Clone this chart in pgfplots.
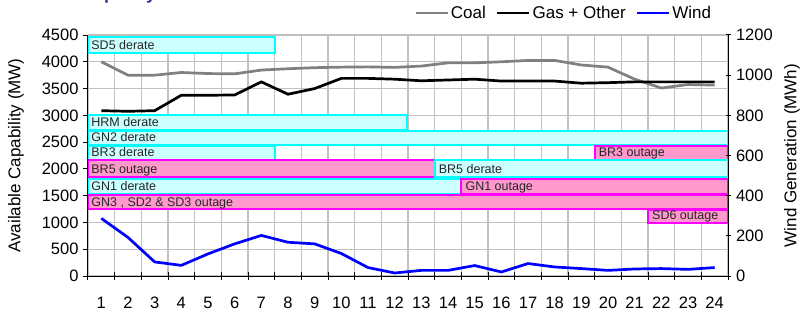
\documentclass[border=0pt]{standalone}
\usepackage{pgfplots}
\pgfplotsset{compat=1.18}
\usepackage{fontspec}
\setmainfont{Liberation Sans}
\definecolor{cyanfill}{HTML}{CCFFFF}
\definecolor{cyanline}{HTML}{00FFFF}
\definecolor{pinkfill}{HTML}{FF99CC}
\definecolor{pinkline}{HTML}{FF00FF}
\definecolor{coalgray}{HTML}{808080}
\definecolor{gridgray}{HTML}{C0C0C0}
\definecolor{titleblue}{HTML}{333399}
\tikzset{
  bar/.style={line width=2bp},
  cy/.style={bar, fill=cyanfill, draw=cyanline},
  pk/.style={bar, fill=pinkfill, draw=pinkline},
  blab/.style={anchor=base west, font=\fontsize{12.5bp}{14bp}\selectfont, text=black!85, inner sep=0pt},
}
\begin{document}
\begin{tikzpicture}[font=\fontsize{16.5bp}{19bp}\selectfont]
\pgfplotsset{
  base/.style={
    scale only axis, width=640bp, height=241bp,
    xmin=0.5, xmax=24.5,
    clip mode=individual,
    /pgf/number format/assume math mode=true,
    /pgf/number format/1000 sep={},
    axis line style={line width=1bp, black},
    major tick length=5bp, minor tick length=7bp,
    tick style={line width=1bp, black},
  },
}
\begin{axis}[base,
  ymin=0, ymax=4500,
  axis x line*=bottom, axis y line*=left,
  xtick={1,...,24},
  major x tick style={draw=none},
  minor xtick={0.5,1.5,...,24.5},
  xtick align=center,
  xminorgrids=true, ymajorgrids=true,
  ytick={0,500,...,4500},
  ytick align=outside,
  grid style={line width=1.2bp, gridgray},
  minor grid style={line width=1.2bp, gridgray},
  xticklabel style={yshift=-15bp},
  yticklabel style={xshift=-1bp},
]
% bars
\addplot[cy] coordinates {(0.5,4170) (7.5,4170) (7.5,4460) (0.5,4460)} --cycle;
\addplot[cy] coordinates {(0.5,2725) (12.45,2725) (12.45,3015) (0.5,3015)} --cycle;
\addplot[cy] coordinates {(0.5,2445) (24.5,2445) (24.5,2710) (0.5,2710)} --cycle;
\addplot[cy] coordinates {(0.5,2175) (7.5,2175) (7.5,2425) (0.5,2425)} --cycle;
\addplot[pk] coordinates {(19.5,2175) (24.5,2175) (24.5,2425) (19.5,2425)} --cycle;
\addplot[pk] coordinates {(0.5,1855) (13.5,1855) (13.5,2160) (0.5,2160)} --cycle;
\addplot[cy] coordinates {(13.5,1855) (24.5,1855) (24.5,2160) (13.5,2160)} --cycle;
\addplot[cy] coordinates {(0.5,1540) (14.5,1540) (14.5,1820) (0.5,1820)} --cycle;
\addplot[pk] coordinates {(14.5,1540) (24.5,1540) (24.5,1820) (14.5,1820)} --cycle;
\addplot[pk] coordinates {(0.5,1260) (24.5,1260) (24.5,1520) (0.5,1520)} --cycle;
\addplot[pk] coordinates {(21.5,990) (24.5,990) (24.5,1240) (21.5,1240)} --cycle;
\node[blab] at (axis cs:0.62,4235) {SD5 derate};
\node[blab] at (axis cs:0.62,2785) {HRM derate};
\node[blab] at (axis cs:0.62,2505) {GN2 derate};
\node[blab] at (axis cs:0.62,2235) {BR3 derate};
\node[blab] at (axis cs:19.65,2235) {BR3 outage};
\node[blab] at (axis cs:0.62,1920) {BR5 outage};
\node[blab] at (axis cs:13.65,1920) {BR5 derate};
\node[blab] at (axis cs:0.62,1600) {GN1 derate};
\node[blab] at (axis cs:14.65,1600) {GN1 outage};
\node[blab] at (axis cs:0.62,1300) {GN3 , SD2 \& SD3 outage};
\node[blab] at (axis cs:21.65,1050) {SD6 outage};
% Coal
\addplot[coalgray, line width=2.7bp] coordinates {
(1,4000) (2,3750) (3,3750) (4,3800) (5,3780) (6,3775) (7,3845) (8,3870)
(9,3890) (10,3900) (11,3905) (12,3895) (13,3920) (14,3980) (15,3980) (16,4000)
(17,4025) (18,4025) (19,3940) (20,3900) (21,3675) (22,3510) (23,3575) (24,3565)};
% Gas + Other
\addplot[black, line width=2.7bp] coordinates {
(1,3087) (2,3075) (3,3087) (4,3375) (5,3375) (6,3380) (7,3625) (8,3394)
(9,3500) (10,3690) (11,3690) (12,3675) (13,3645) (14,3660) (15,3675) (16,3640)
(17,3640) (18,3640) (19,3600) (20,3610) (21,3625) (22,3625) (23,3625) (24,3625)};
\node[anchor=center, rotate=90] at (axis description cs:-0.1125,0.5) {\fontsize{17bp}{19bp}\selectfont Available Capability (MW)};
\node[anchor=base west, inner sep=0pt, text=titleblue, font=\fontsize{18bp}{20bp}\selectfont\bfseries] at (-7bp,276.3bp) {Capacity};
\end{axis}
\begin{axis}[base,
  ymin=0, ymax=1200,
  axis y line*=right, axis x line=none,
  ytick={0,200,...,1200},
  ytick align=center,
  yticklabel style={xshift=2bp},
  legend columns=3,
  legend style={at={(axis description cs:0.977,1.091)}, anchor=east, draw=none, fill=none, inner sep=0pt,
    font=\fontsize{17bp}{19bp}\selectfont,
    /tikz/every even column/.append style={column sep=8bp}},
  legend image code/.code={\draw[#1] (0bp,0bp) -- (32bp,0bp);},
]
\addlegendimage{coalgray, line width=2.7bp}
\addlegendentry{Coal}
\addlegendimage{black, line width=2.7bp}
\addlegendentry{Gas + Other}
\addplot[blue, line width=2.7bp] coordinates {
(1,287) (2,192) (3,70) (4,53) (5,110) (6,160) (7,202) (8,168)
(9,160) (10,112) (11,42) (12,15) (13,28) (14,28) (15,52) (16,20)
(17,62) (18,45) (19,37) (20,28) (21,35) (22,37) (23,33) (24,42)};
\addlegendentry{Wind}
\node[anchor=center, rotate=90] at (axis description cs:1.1,0.5) {\fontsize{17bp}{19bp}\selectfont Wind Generation (MWh)};
\end{axis}
\pgfresetboundingbox
\useasboundingbox (-88bp,-38bp) rectangle (716bp,276bp);
\end{tikzpicture}
\end{document}
